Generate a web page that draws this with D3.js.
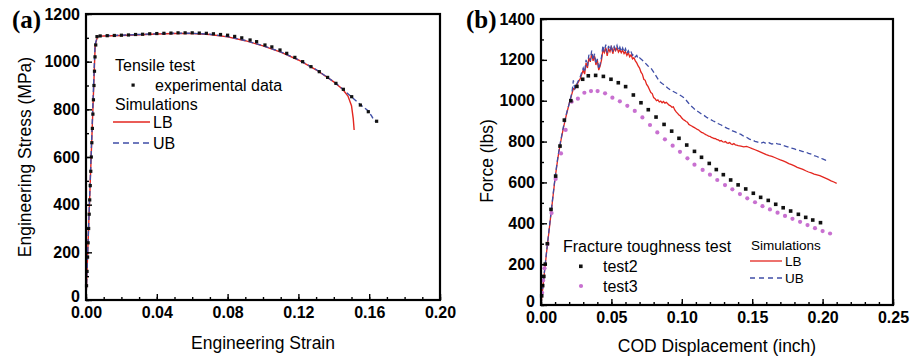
<!DOCTYPE html>
<html>
<head>
<meta charset="utf-8">
<script src="https://cdn.jsdelivr.net/npm/d3@7"></script>
<style>
  body { margin: 0; background: #fff; }
  svg { display: block; }
  text { font-family: "Liberation Sans", Arial, sans-serif; fill: #000; }
</style>
</head>
<body>
<div id="chart"></div>
<script>

// ---- data ----

// (a) tensile test
var strainTicks = [0, 0.04, 0.08, 0.12, 0.16, 0.20];
var stressTicks = [0, 200, 400, 600, 800, 1000, 1200];

var tensileExp = [
  [0.0003,60],[0.0006,120],[0.0009,180],[0.0012,240],[0.0015,300],[0.0018,360],[0.0021,420],
  [0.0024,480],[0.0027,540],[0.0030,600],[0.0033,660],[0.0036,720],[0.0039,780],[0.0042,840],
  [0.0045,900],[0.0048,960],[0.0051,1020],[0.0055,1070],[0.0062,1105],
  [0.008,1108],[0.012,1109],[0.016,1110],[0.020,1111],[0.024,1112],[0.028,1114],[0.032,1115],
  [0.036,1117],[0.040,1118],[0.044,1119],[0.048,1120],[0.052,1121],[0.056,1121],[0.060,1121],
  [0.064,1120],[0.068,1119],[0.072,1117],[0.076,1114],[0.080,1111],[0.084,1106],[0.088,1100],
  [0.0927,1091],[0.0964,1084],[0.1011,1070],[0.105,1062],[0.1096,1049],[0.1134,1035],[0.118,1018],
  [0.1224,1000],[0.1271,979],[0.1318,958],[0.1365,934],[0.1412,909],[0.1454,884],[0.1501,853],
  [0.155,818],[0.1595,790],[0.1642,750]
];
var tensileLB = [
  [0,0],[0.0052,1070],[0.0065,1105],[0.01,1108],[0.02,1110],[0.03,1113],[0.04,1116],[0.05,1118],
  [0.06,1118],[0.07,1114],[0.08,1104],[0.09,1088],[0.10,1066],[0.11,1040],[0.12,1007],[0.13,966],
  [0.14,915],[0.145,884],[0.148,856],[0.150,815],[0.151,760],[0.1515,713]
];
var tensileUB = [
  [0,0],[0.0051,1070],[0.0064,1106],[0.01,1109],[0.02,1111],[0.03,1114],[0.04,1117],[0.05,1119],
  [0.06,1119],[0.07,1115],[0.08,1105],[0.09,1089],[0.10,1067],[0.11,1041],[0.12,1008],[0.13,967],
  [0.14,916],[0.145,885],[0.150,852],[0.155,820],[0.1595,793],[0.1615,770],[0.163,750]
];

// (b) fracture toughness test
var codTicks = [0, 0.05, 0.10, 0.15, 0.20, 0.25];
var forceTicks = [0, 200, 400, 600, 800, 1000, 1200, 1400];

var test2 = [
  [0.0005,45],[0.0012,95],[0.002,140],[0.003,200],[0.0045,300],[0.0071,468],[0.0104,631],
  [0.0135,778],[0.0166,905],[0.0212,1000],[0.0255,1070],[0.0296,1105],[0.0336,1122],[0.0388,1124],
  [0.0443,1119],[0.0497,1105],[0.0549,1088],[0.0601,1069],[0.0656,1028],[0.071,990],[0.0762,956],
  [0.0817,920],[0.0874,884],[0.0928,851],[0.098,816],[0.1035,783],[0.109,752],[0.114,723],
  [0.1195,693],[0.1245,663],[0.1295,638],[0.1347,612],[0.140,588],[0.1454,568],[0.1508,547],
  [0.156,527],[0.1614,512],[0.1667,493],[0.172,476],[0.1773,460],[0.1828,444],[0.188,429],
  [0.193,416],[0.1985,403]
];
var test3 = [
  [0.0008,60],[0.0015,120],[0.0025,180],[0.0047,298],[0.0075,450],[0.0104,617],[0.0142,742],
  [0.0175,857],[0.0218,995],[0.0262,1010],[0.0308,1039],[0.0355,1047],[0.0402,1047],[0.0455,1036],
  [0.0507,1015],[0.056,997],[0.0613,975],[0.0666,950],[0.072,918],[0.0774,881],[0.0826,845],
  [0.088,811],[0.0935,780],[0.0987,750],[0.104,718],[0.109,687],[0.1148,661],[0.120,638],
  [0.1252,612],[0.1307,587],[0.1359,566],[0.1413,543],[0.1465,522],[0.152,503],[0.1573,484],
  [0.1626,468],[0.168,452],[0.1733,436],[0.1786,422],[0.184,407],[0.1893,391],[0.1946,376],
  [0.200,362],[0.2053,350]
];
var codLB = [
  [0,0],[0.002,130],[0.004,260],[0.006,380],[0.008,500],[0.010,620],[0.012,720],[0.014,800],
  [0.016,870],[0.018,930],[0.020,985],[0.022,1035],[0.023,1060],[0.024,1058],[0.026,1085],
  [0.028,1110],[0.030,1150],[0.031,1130],[0.032,1185],[0.033,1160],[0.034,1210],[0.035,1190],
  [0.036,1230],[0.037,1195],[0.038,1220],[0.039,1175],[0.040,1200],[0.041,1150],[0.042,1170],
  [0.043,1200],[0.044,1250],[0.045,1235],[0.046,1260],[0.047,1220],[0.048,1255],[0.049,1240],
  [0.050,1262],[0.051,1230],[0.052,1258],[0.053,1245],[0.054,1260],[0.055,1238],[0.056,1250],
  [0.057,1235],[0.058,1248],[0.059,1230],[0.060,1240],[0.061,1222],[0.062,1235],[0.063,1215],
  [0.064,1225],[0.065,1205],[0.066,1210],[0.067,1195],[0.068,1185],[0.069,1170],[0.070,1160],
  [0.071,1140],[0.072,1130],[0.073,1105],[0.074,1100],[0.075,1080],[0.076,1070],[0.077,1055],
  [0.078,1040],[0.079,1035],[0.080,1015],[0.081,1010],[0.082,1000],[0.083,1004],[0.084,994],
  [0.085,998],[0.086,990],[0.087,996],[0.088,988],[0.089,992],[0.090,985],[0.091,978],
  [0.092,975],[0.093,968],[0.094,970],[0.095,955],[0.096,945],[0.097,938],[0.098,930],
  [0.099,925],[0.100,915],[0.101,908],[0.102,904],[0.103,898],[0.104,895],[0.105,884],
  [0.106,880],[0.107,876],[0.108,872],[0.109,868],[0.110,864],[0.111,860],[0.112,857],
  [0.113,850],[0.114,845],[0.115,843],[0.116,838],[0.117,834],[0.118,831],[0.119,827],
  [0.120,826],[0.121,820],[0.122,818],[0.123,815],[0.124,814],[0.125,809],[0.126,808],
  [0.127,803],[0.128,805],[0.129,799],[0.130,797],[0.131,800],[0.132,794],[0.133,792],
  [0.134,795],[0.135,788],[0.136,786],[0.137,790],[0.138,784],[0.139,783],[0.140,780],
  [0.142,778],[0.144,774],[0.146,776],[0.148,771],[0.150,765],[0.152,760],[0.154,754],
  [0.156,748],[0.158,742],[0.160,736],[0.162,731],[0.164,728],[0.166,722],[0.168,716],
  [0.170,710],[0.172,705],[0.174,699],[0.176,692],[0.178,687],[0.180,681],[0.182,674],
  [0.184,669],[0.186,664],[0.188,657],[0.190,651],[0.192,647],[0.194,641],[0.196,637],
  [0.198,633],[0.200,627],[0.202,621],[0.204,615],[0.206,608],[0.208,602],[0.210,595]
];
var codUB = [
  [0,0],[0.002,135],[0.004,265],[0.006,385],[0.008,505],[0.010,625],[0.012,725],[0.014,805],
  [0.016,875],[0.018,935],[0.020,985],[0.022,1040],[0.023,1100],[0.024,1060],[0.026,1090],
  [0.028,1120],[0.030,1160],[0.031,1140],[0.032,1200],[0.033,1170],[0.034,1225],[0.035,1195],
  [0.036,1245],[0.037,1200],[0.038,1230],[0.039,1180],[0.040,1205],[0.041,1155],[0.042,1180],
  [0.043,1215],[0.044,1270],[0.045,1240],[0.046,1275],[0.047,1235],[0.048,1268],[0.049,1245],
  [0.050,1272],[0.051,1240],[0.052,1265],[0.053,1250],[0.054,1270],[0.055,1245],[0.056,1262],
  [0.057,1240],[0.058,1258],[0.059,1238],[0.060,1255],[0.061,1232],[0.062,1245],[0.063,1230],
  [0.064,1238],[0.065,1222],[0.066,1228],[0.067,1215],[0.068,1222],[0.069,1205],[0.070,1210],
  [0.072,1198],[0.074,1185],[0.076,1170],[0.078,1160],[0.080,1140],[0.082,1118],[0.084,1095],
  [0.086,1084],[0.088,1075],[0.090,1062],[0.092,1052],[0.094,1045],[0.096,1038],[0.098,1030],
  [0.100,1022],[0.102,1012],[0.104,995],[0.106,978],[0.108,966],[0.110,952],[0.112,945],
  [0.114,935],[0.116,927],[0.118,917],[0.120,910],[0.122,902],[0.124,896],[0.126,887],
  [0.128,881],[0.130,873],[0.132,866],[0.134,861],[0.136,852],[0.138,847],[0.140,841],
  [0.142,835],[0.144,826],[0.146,821],[0.148,812],[0.150,808],[0.152,801],[0.154,797],
  [0.156,792],[0.158,797],[0.160,790],[0.162,794],[0.164,788],[0.166,793],[0.168,789],
  [0.170,786],[0.172,781],[0.174,777],[0.176,772],[0.178,768],[0.180,764],[0.182,759],
  [0.184,756],[0.186,751],[0.188,749],[0.190,742],[0.192,738],[0.194,731],[0.196,727],
  [0.198,720],[0.200,715],[0.202,709],[0.204,702]
];

// ---- drawing ----
var red = "#e3261f", blue = "#3f4ea6", pink = "#c870d0";

var svg = d3.select("#chart").append("svg")
  .attr("width", 919)
  .attr("height", 358);

function addAxes(g, x, y, w, h, xt, xm, yt, ym, xf, yf) {
  // minor ticks, inward
  g.append("g").attr("class", "axis").attr("transform", "translate(0," + h + ")")
    .call(d3.axisBottom(x).tickValues(xm).tickSize(-3).tickFormat(""));
  g.append("g").attr("class", "axis")
    .call(d3.axisLeft(y).tickValues(ym).tickSize(-3).tickFormat(""));
  // major ticks with labels
  g.append("g").attr("class", "axis").attr("transform", "translate(0," + h + ")")
    .call(d3.axisBottom(x).tickValues(xt).tickSize(-6).tickPadding(7).tickFormat(xf));
  var yAx = g.append("g").attr("class", "axis")
    .call(d3.axisLeft(y).tickValues(yt).tickSize(-6).tickPadding(6).tickFormat(yf));
  // the zero label sits in the corner, nudge it up off the x labels
  yAx.selectAll(".tick text").filter(d => d === 0).attr("dy", "0.1em");

  g.selectAll(".axis .domain").remove();
  g.selectAll(".axis line").attr("stroke", "#000").attr("stroke-width", 1.4);
  g.selectAll(".axis text")
    .attr("font-family", "Liberation Sans, Arial, sans-serif")
    .attr("font-size", "16px")
    .attr("font-weight", "bold")
    .attr("fill", "#000");

  g.append("rect")
    .attr("width", w).attr("height", h)
    .attr("fill", "none").attr("stroke", "#000").attr("stroke-width", 2.2);
}

// panel (a)
var ma = {left: 86, top: 14, width: 354, height: 286};
var xa = d3.scaleLinear().domain([0, 0.2]).range([0, ma.width]);
var ya = d3.scaleLinear().domain([0, 1200]).range([ma.height, 0]);
var ga = svg.append("g").attr("transform", "translate(" + ma.left + "," + ma.top + ")");

var lineA = d3.line().x(d => xa(d[0])).y(d => ya(d[1]));

ga.append("path").datum(tensileLB)
  .attr("d", lineA).attr("fill", "none").attr("stroke", red).attr("stroke-width", 1.4);
ga.append("path").datum(tensileUB)
  .attr("d", lineA).attr("fill", "none").attr("stroke", blue).attr("stroke-width", 1.4)
  .attr("stroke-dasharray", "5,3");
ga.selectAll(".exp").data(tensileExp).enter().append("rect")
  .attr("x", d => xa(d[0]) - 1.6).attr("y", d => ya(d[1]) - 1.6)
  .attr("width", 3.2).attr("height", 3.2).attr("fill", "#111");

addAxes(ga, xa, ya, ma.width, ma.height,
  strainTicks, d3.range(0, 0.2001, 0.01), stressTicks, d3.range(0, 1201, 100),
  d3.format(".2f"), d3.format("d"));

// panel (b)
var mb = {left: 541, top: 19, width: 352, height: 286};
var xb = d3.scaleLinear().domain([0, 0.25]).range([0, mb.width]);
var yb = d3.scaleLinear().domain([0, 1400]).range([mb.height, 0]);
var gb = svg.append("g").attr("transform", "translate(" + mb.left + "," + mb.top + ")");

var lineB = d3.line().x(d => xb(d[0])).y(d => yb(d[1]));

gb.append("path").datum(codLB)
  .attr("d", lineB).attr("fill", "none").attr("stroke", red).attr("stroke-width", 1.3);
gb.append("path").datum(codUB)
  .attr("d", lineB).attr("fill", "none").attr("stroke", blue).attr("stroke-width", 1.3)
  .attr("stroke-dasharray", "5,3");
gb.selectAll(".t3").data(test3).enter().append("circle")
  .attr("cx", d => xb(d[0])).attr("cy", d => yb(d[1])).attr("r", 2.1).attr("fill", pink);
gb.selectAll(".t2").data(test2).enter().append("rect")
  .attr("x", d => xb(d[0]) - 1.8).attr("y", d => yb(d[1]) - 1.8)
  .attr("width", 3.6).attr("height", 3.6).attr("fill", "#111");

addAxes(gb, xb, yb, mb.width, mb.height,
  codTicks, d3.range(0, 0.2501, 0.01), forceTicks, d3.range(0, 1401, 100),
  d3.format(".2f"), d3.format("d"));

// axis titles
svg.append("text").attr("x", 263).attr("y", 349).attr("text-anchor", "middle")
  .attr("font-size", "17.5px").text("Engineering Strain");
svg.append("text").attr("transform", "translate(31,157) rotate(-90)").attr("text-anchor", "middle")
  .attr("font-size", "17.5px").text("Engineering Stress (MPa)");
svg.append("text").attr("x", 717).attr("y", 352).attr("text-anchor", "middle")
  .attr("font-size", "17.5px").text("COD Displacement (inch)");
svg.append("text").attr("transform", "translate(493,161) rotate(-90)").attr("text-anchor", "middle")
  .attr("font-size", "17.5px").text("Force (lbs)");

// panel letters
svg.append("text").attr("x", 12).attr("y", 28)
  .style("font-family", "Liberation Serif, Times New Roman, serif")
  .attr("font-weight", "bold").attr("font-size", "25px").text("(a)");
svg.append("text").attr("x", 466).attr("y", 28)
  .style("font-family", "Liberation Serif, Times New Roman, serif")
  .attr("font-weight", "bold").attr("font-size", "25px").text("(b)");

// legend (a)
var la = svg.append("g").attr("font-size", "16px");
la.append("text").attr("x", 115).attr("y", 71).text("Tensile test");
la.append("rect").attr("x", 131.5).attr("y", 83.5).attr("width", 3.2).attr("height", 3.2).attr("fill", "#111");
la.append("text").attr("x", 155).attr("y", 91).text("experimental data");
la.append("text").attr("x", 115).attr("y", 110).text("Simulations");
la.append("line").attr("x1", 113).attr("x2", 150).attr("y1", 122).attr("y2", 122)
  .attr("stroke", red).attr("stroke-width", 1.4);
la.append("text").attr("x", 153).attr("y", 128).text("LB");
la.append("line").attr("x1", 113).attr("x2", 150).attr("y1", 143).attr("y2", 143)
  .attr("stroke", blue).attr("stroke-width", 1.4).attr("stroke-dasharray", "6,4");
la.append("text").attr("x", 153).attr("y", 149).text("UB");

// legend (b)
var lb = svg.append("g");
lb.append("text").attr("x", 563).attr("y", 252).attr("font-size", "16px").text("Fracture toughness test");
lb.append("rect").attr("x", 579).attr("y", 264.5).attr("width", 3.6).attr("height", 3.6).attr("fill", "#111");
lb.append("text").attr("x", 603).attr("y", 272).attr("font-size", "16px").text("test2");
lb.append("circle").attr("cx", 581).attr("cy", 286).attr("r", 2.1).attr("fill", pink);
lb.append("text").attr("x", 603).attr("y", 292).attr("font-size", "16px").text("test3");
lb.append("text").attr("x", 751).attr("y", 250).attr("font-size", "13.5px").text("Simulations");
lb.append("line").attr("x1", 750).attr("x2", 782).attr("y1", 261).attr("y2", 261)
  .attr("stroke", red).attr("stroke-width", 1.3);
lb.append("text").attr("x", 785).attr("y", 266).attr("font-size", "13.5px").text("LB");
lb.append("line").attr("x1", 750).attr("x2", 782).attr("y1", 278).attr("y2", 278)
  .attr("stroke", blue).attr("stroke-width", 1.3).attr("stroke-dasharray", "5,4");
lb.append("text").attr("x", 785).attr("y", 283).attr("font-size", "13.5px").text("UB");

</script>
</body>
</html>
